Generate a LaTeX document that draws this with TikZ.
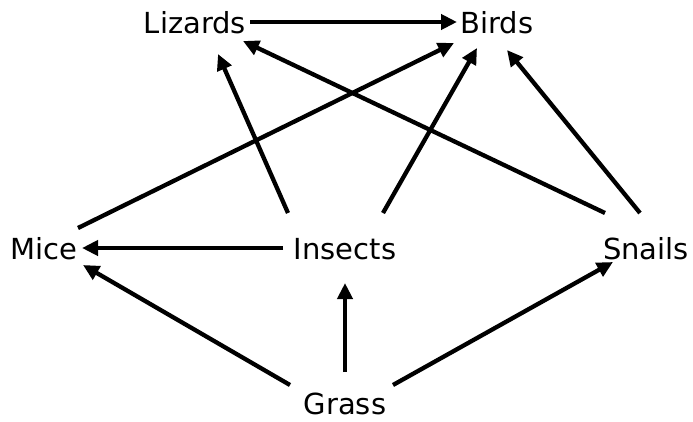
\documentclass[tikz,border=0pt]{standalone}
\usepackage{fontspec}
\setmainfont{DejaVu Sans}
\usetikzlibrary{arrows.meta}
\begin{document}
\begin{tikzpicture}[x=1pt,y=-1pt,
  lbl/.style={inner sep=0pt,font=\fontsize{29}{32}\selectfont,anchor=center},
  arr/.style={line width=4.3pt,-{Triangle[length=16pt,width=15pt]}}]
\useasboundingbox (0,0) rectangle (693,421);
\node[lbl] (Lizards) at (195,23) {Lizards};
\node[lbl] (Birds) at (497,23) {Birds};
\node[lbl] (Mice) at (44,249) {Mice};
\node[lbl] (Insects) at (345,249) {Insects};
\node[lbl] (Snails) at (646,249) {Snails};
\node[lbl] (Grass) at (345,404) {Grass};
% top
\draw[arr] ([shift={(55,-1)}]Lizards.center) -- ([shift={(-40,-1)}]Birds.center);
\draw[arr] ([shift={(34,-21)}]Mice.center) -- ([shift={(-43,20)}]Birds.center);
\draw[arr] ([shift={(-57,-36)}]Insects.center) -- ([shift={(23,31)}]Lizards.center);
\draw[arr] ([shift={(38,-36)}]Insects.center) -- ([shift={(-20,25)}]Birds.center);
\draw[arr] ([shift={(-41,-36)}]Snails.center) -- ([shift={(48,18)}]Lizards.center);
\draw[arr] ([shift={(-6,-36)}]Snails.center) -- ([shift={(10,27)}]Birds.center);
% middle
\draw[arr] ([shift={(-62,-1)}]Insects.center) -- ([shift={(38,-1)}]Mice.center);
% bottom
\draw[arr] ([shift={(-55,-19)}]Grass.center) -- ([shift={(39,16)}]Mice.center);
\draw[arr] ([shift={(0,-32)}]Grass.center) -- ([shift={(0,34)}]Insects.center);
\draw[arr] ([shift={(48,-19)}]Grass.center) -- ([shift={(-33,13)}]Snails.center);
\end{tikzpicture}
\end{document}
